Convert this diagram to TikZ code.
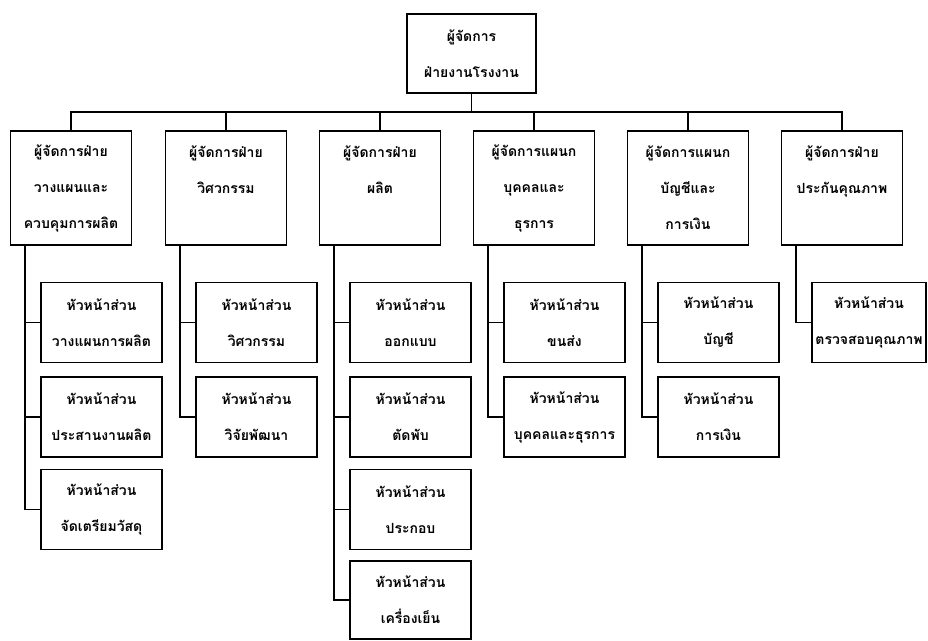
\documentclass[tikz,border=0pt]{standalone}
\usepackage{fontspec}
\newfontfamily\thaifont[Script=Thai]{Loma}
\usetikzlibrary{calc}
\tikzset{
  box/.style={draw, line width=1.4pt, minimum width=121pt, inner sep=0pt, align=center,
    font=\thaifont\bfseries\fontsize{14}{36}\selectfont},
  topbox/.style={box, minimum width=129pt, minimum height=79pt},
  midbox/.style={box, minimum height=114pt},
  subbox/.style={box, minimum height=80pt},
  link/.style={line width=1.4pt},
}
\begin{document}
\begin{tikzpicture}[x=1pt,y=-1pt]
\useasboundingbox[fill=white] (0,0) rectangle (928,640);
% top
\node[topbox] (top) at (471.5,53.5) {ผู้จัดการ\\ฝ่ายงานโรงงาน};
\coordinate (bus) at (471.5,112);
% second level
\node[midbox] (m1) at (71,188) {ผู้จัดการฝ่าย\\วางแผนและ\\ควบคุมการผลิต};
\node[midbox] (m2) at (226,188) {ผู้จัดการฝ่าย\\วิศวกรรม\\\mbox{}};
\node[midbox] (m3) at (380,188) {ผู้จัดการฝ่าย\\ผลิต\\\mbox{}};
\node[midbox] (m4) at (534,188) {ผู้จัดการแผนก\\บุคคลและ\\ธุรการ};
\node[midbox] (m5) at (688,188) {ผู้จัดการแผนก\\บัญชีและ\\การเงิน};
\node[midbox] (m6) at (842,188) {ผู้จัดการฝ่าย\\ประกันคุณภาพ\\\mbox{}};
% third level
\node[subbox] (c11) at (101.5,322.5) {หัวหน้าส่วน\\วางแผนการผลิต};
\node[subbox] (c12) at (101.5,417) {หัวหน้าส่วน\\ประสานงานผลิต};
\node[subbox] (c13) at (101.5,509.5) {หัวหน้าส่วน\\จัดเตรียมวัสดุ};
\node[subbox] (c21) at (256.5,322.5) {หัวหน้าส่วน\\วิศวกรรม};
\node[subbox] (c22) at (256.5,417) {หัวหน้าส่วน\\วิจัยพัฒนา};
\node[subbox] (c31) at (410.5,322.5) {หัวหน้าส่วน\\ออกแบบ};
\node[subbox] (c32) at (410.5,417) {หัวหน้าส่วน\\ตัดพับ};
\node[subbox] (c33) at (410.5,509.5) {หัวหน้าส่วน\\ประกอบ};
\node[subbox, minimum height=78pt] (c34) at (410.5,600) {หัวหน้าส่วน\\เครื่องเย็น};
\node[subbox] (c41) at (564.5,322.5) {หัวหน้าส่วน\\ขนส่ง};
\node[subbox] (c42) at (564.5,417) {หัวหน้าส่วน\\บุคคลและธุรการ};
\node[subbox] (c51) at (718.5,322.5) {หัวหน้าส่วน\\บัญชี};
\node[subbox] (c52) at (718.5,417) {หัวหน้าส่วน\\การเงิน};
\node[subbox, minimum width=114pt] (c61) at (869,322.5) {หัวหน้าส่วน\\ตรวจสอบคุณภาพ};
% trunks
\foreach \i in {1,...,6} {\coordinate (t\i) at ($(m\i.south)+(-46,0)$);}
% connectors
\draw[link] (top.south) -- (top.south |- bus);
\draw[link] (m1.north) |- (m6.north |- bus) -- (m6.north);
\foreach \i in {2,...,5} {\draw[link] (m\i.north) -- (m\i.north |- bus);}
\foreach \c/\t in {c11/t1,c12/t1,c13/t1,c21/t2,c22/t2,c31/t3,c32/t3,c33/t3,c34/t3,c41/t4,c42/t4,c51/t5,c52/t5,c61/t6}
  {\draw[link] (\t) |- (\c.west);}
\end{tikzpicture}
\end{document}
